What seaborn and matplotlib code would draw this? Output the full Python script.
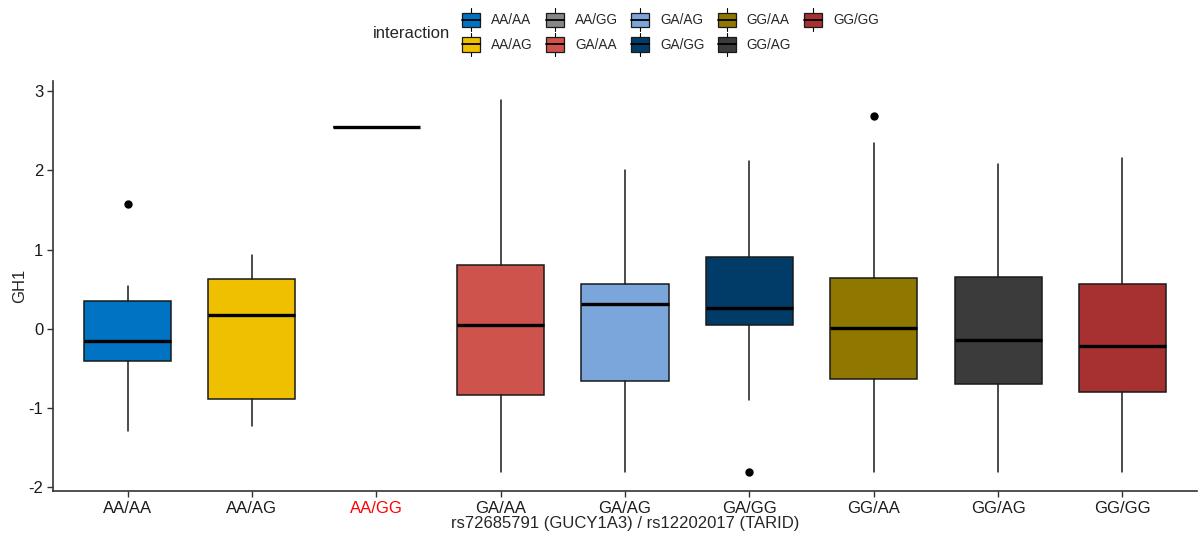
import matplotlib
matplotlib.use("Agg")
import matplotlib.pyplot as plt
import seaborn as sns
from matplotlib.patches import Patch, Rectangle
from matplotlib.lines import Line2D
from matplotlib.legend_handler import HandlerBase

# Genotype interaction groups
groups = ["AA/AA", "AA/AG", "AA/GG", "GA/AA", "GA/AG", "GA/GG", "GG/AA", "GG/AG", "GG/GG"]

# Box summaries of GH1 per group
whis_lo = [-1.29, -1.227, 2.54, -1.806, -1.806, -0.899, -1.806, -1.806, -1.806]
q1 = [-0.41, -0.89, 2.54, -0.836, -0.66, 0.054, -0.638, -0.70, -0.793]
median = [-0.156, 0.176, 2.54, 0.054, 0.319, 0.26, 0.013, -0.143, -0.219]
q3 = [0.35, 0.633, 2.54, 0.80, 0.562, 0.907, 0.642, 0.655, 0.57]
whis_hi = [0.54, 0.927, 2.54, 2.89, 2.006, 2.12, 2.34, 2.078, 2.16]
outliers = [[1.57], [], [], [], [], [-1.81], [2.68], [], []]

y_ticks = [-2, -1, 0, 1, 2, 3]

jco = ["#0073C2", "#EFC000", "#868686", "#CD534C", "#7AA6DC",
       "#003C67", "#8F7700", "#3B3B3B", "#A73030"]

sns.set_theme(style="ticks")
plt.rcParams["font.family"] = ["Liberation Sans", "DejaVu Sans"]
plt.rcParams["axes.unicode_minus"] = False
palette = sns.color_palette(jco)

fig = plt.figure(figsize=(11.98, 5.37), dpi=100)
ax = fig.add_axes([53 / 1198, 1 - 491 / 537, (1197 - 53) / 1198, (491 - 81) / 537])

stats = []
for i, g in enumerate(groups):
    stats.append(dict(label=g, whislo=whis_lo[i], q1=q1[i], med=median[i],
                      q3=q3[i], whishi=whis_hi[i], fliers=outliers[i]))

positions = list(range(len(groups)))
bp = ax.bxp(stats, positions=positions, widths=0.7, patch_artist=True,
            showcaps=False, showfliers=True,
            boxprops=dict(edgecolor="#1a1a1a", linewidth=1.1),
            whiskerprops=dict(color="#1a1a1a", linewidth=1.1),
            medianprops=dict(color="black", linewidth=2.4, solid_capstyle="butt"),
            flierprops=dict(marker="o", markerfacecolor="black", markeredgecolor="black",
                            markersize=5, linestyle="none"))
for patch, c in zip(bp["boxes"], palette):
    patch.set_facecolor(c)

ax.set_xlim(-0.6, len(groups) - 1 + 0.6)
ax.set_ylim(-2.045, 3.125)
ax.set_yticks(y_ticks)
ax.set_yticklabels([str(t) for t in y_ticks])
ax.set_xticks(positions)
ax.set_xticklabels(groups)

ax.tick_params(axis="both", labelsize=12, length=4, width=1.0, color="#333333",
               labelcolor="#1a1a1a", direction="out", pad=3)
for lbl in ax.get_xticklabels():
    if lbl.get_text() == "AA/GG":
        lbl.set_color("red")
for sp in ["top", "right"]:
    ax.spines[sp].set_visible(False)
for sp in ["left", "bottom"]:
    ax.spines[sp].set_color("#333333")
    ax.spines[sp].set_linewidth(1.2)
ax.grid(False)

ax.set_xlabel("rs72685791 (GUCY1A3) / rs12202017 (TARID)", fontsize=12, labelpad=0)
ax.set_ylabel("GH1", fontsize=12, labelpad=1)


class BoxKeyHandler(HandlerBase):
    def create_artists(self, legend, orig_handle, xdescent, ydescent,
                       width, height, fontsize, trans):
        x0, y0 = -xdescent, -ydescent
        fc = orig_handle.get_facecolor()
        bh = height * 0.61
        by = y0 + (height - bh) / 2
        cx = x0 + width / 2
        top = Line2D([cx, cx], [by + bh, y0 + height], color="black", lw=0.8, transform=trans)
        bot = Line2D([cx, cx], [y0, by], color="black", lw=0.8, transform=trans)
        rect = Rectangle((x0, by), width, bh, facecolor=fc, edgecolor="#1a1a1a",
                         lw=0.9, transform=trans)
        med = Line2D([x0, x0 + width], [y0 + height / 2] * 2, color="black",
                     lw=1.3, transform=trans)
        return [top, bot, rect, med]


handles = [Patch(facecolor=c, label=g) for g, c in zip(groups, palette)]
fig.legend(handles=handles, ncol=5, loc="upper left",
           bbox_to_anchor=(462 / 1198, 1 - 8 / 537), frameon=False,
           handler_map={Patch: BoxKeyHandler()}, fontsize=9.8,
           handlelength=1.33, handleheight=2.25, handletextpad=0.82,
           columnspacing=0.95, labelspacing=0.12, borderpad=0, borderaxespad=0)
fig.text(450 / 1198, 1 - 33 / 537, "interaction", ha="right", va="center", fontsize=12)

fig.savefig("out.png", dpi=100)
